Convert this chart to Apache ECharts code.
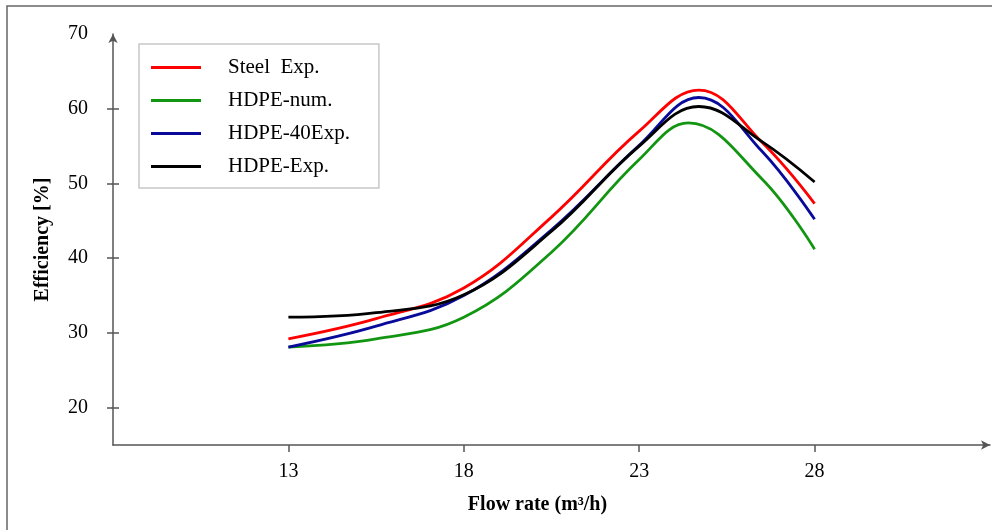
<!DOCTYPE html>
<html>
<head>
<meta charset="utf-8">
<script src="https://cdn.jsdelivr.net/npm/echarts@6/dist/echarts.min.js"></script>
<style>
  html, body { margin: 0; padding: 0; background: #fff; }
  #chart { width: 992px; height: 530px; }
</style>
</head>
<body>
<div id="chart"></div>
<script>
var seriesNames = ["Steel  Exp.", "HDPE-num.", "HDPE-40Exp.", "HDPE-Exp."];
var seriesColors = ["#ff0000", "#129612", "#0a0a9a", "#000000"];

// flow rate sample points
var steelX  = [13, 15.5, 18, 20.5, 23, 24.7, 26.5, 28];
var steelY  = [29.2, 31.9, 36.0, 45.5, 57.0, 62.5, 55.5, 47.3];

var numX    = [13, 15.5, 18, 20.5, 23, 24.4, 26.5, 28];
var numY    = [28.1, 29.2, 32.1, 40.8, 53.2, 58.1, 50.6, 41.2];

var hdpe40X = [13, 15.5, 18, 20.5, 23, 24.7, 26.5, 28];
var hdpe40Y = [28.1, 30.9, 35.0, 43.8, 55.1, 61.5, 54.3, 45.2];

var hdpeX   = [13, 15.5, 18, 20.5, 23, 24.7, 26.5, 28];
var hdpeY   = [32.1, 32.7, 35.1, 43.6, 55.0, 60.3, 55.6, 50.2];

var xTicks = [13, 18, 23, 28];
var yTicks = [20, 30, 40, 50, 60];
var yLabels = [20, 30, 40, 50, 60, 70];

function pairs(xs, ys) {
  return xs.map(function(x, i) { return [x, ys[i]]; });
}

var allData = [
  pairs(steelX, steelY),
  pairs(numX, numY),
  pairs(hdpe40X, hdpe40Y),
  pairs(hdpeX, hdpeY)
];

var font = "Liberation Serif";
var axisCol = "#555";

var chart = echarts.init(document.getElementById("chart"));
chart.setOption({
  animation: false,
  textStyle: { fontFamily: font },
  graphic: [
    {
      type: "polyline",
      shape: { points: [[7, 540], [7, 6], [1000, 6]] },
      style: { stroke: "#666", lineWidth: 1.5, fill: null },
      silent: true
    }
  ],
  grid: { left: 113, right: 2, top: 34, bottom: 85, containLabel: false },
  legend: {
    orient: "vertical",
    left: 139,
    top: 44,
    data: seriesNames,
    icon: "rect",
    itemWidth: 50,
    itemHeight: 3,
    itemGap: 12,
    padding: [13, 29, 11, 12],
    borderColor: "#c8c8c8",
    borderWidth: 1.5,
    textStyle: { fontFamily: font, fontSize: 21, color: "#000", padding: [0, 0, 0, 22] }
  },
  xAxis: {
    type: "value",
    min: 8,
    max: 33,
    interval: 5,
    name: "Flow rate (m³/h)",
    nameLocation: "middle",
    nameGap: 50,
    nameTextStyle: { fontFamily: font, fontSize: 20, fontWeight: "bold", color: "#000", padding: [0, 28, 0, 0] },
    axisLine: { show: true, symbol: ["none", "arrow"], symbolSize: [7, 9], lineStyle: { color: axisCol, width: 1.5 } },
    axisTick: { show: true, length: 7, customValues: xTicks, lineStyle: { color: axisCol, width: 1.5 } },
    axisLabel: { customValues: xTicks, fontFamily: font, fontSize: 20, color: "#000", margin: 17 },
    splitLine: { show: false }
  },
  yAxis: [
    {
      type: "value",
      min: 15,
      max: 70,
      name: "Efficiency [%]",
      nameLocation: "middle",
      nameGap: 60,
      nameRotate: 90,
      nameTextStyle: { fontFamily: font, fontSize: 20, fontWeight: "bold", color: "#000" },
      axisLine: { show: true, symbol: ["none", "arrow"], symbolSize: [7, 9], lineStyle: { color: axisCol, width: 1.5 } },
      axisTick: { show: true, length: 6, customValues: yTicks, lineStyle: { color: axisCol, width: 1.5 } },
      axisLabel: { customValues: yLabels, fontFamily: font, fontSize: 20, color: "#000", margin: 25 },
      splitLine: { show: false }
    },
    {
      type: "value",
      min: 15,
      max: 70,
      position: "left",
      axisLine: { show: false },
      axisTick: { show: true, inside: true, length: 6, customValues: yTicks, lineStyle: { color: axisCol, width: 1.5 } },
      axisLabel: { show: false },
      splitLine: { show: false }
    }
  ],
  series: allData.map(function(d, i) {
    return {
      name: seriesNames[i],
      type: "line",
      data: d,
      smooth: 0.4,
      symbol: "none",
      color: seriesColors[i],
      lineStyle: { color: seriesColors[i], width: 2.8 }
    };
  })
});
</script>
</body>
</html>
